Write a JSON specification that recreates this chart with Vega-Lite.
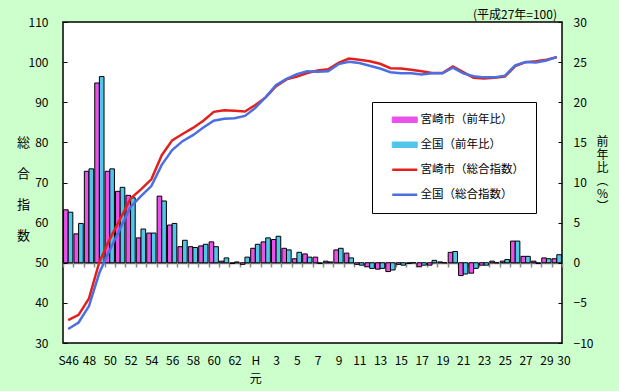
{
  "$schema": "https://vega.github.io/schema/vega-lite/v6.json",
  "width": 499,
  "height": 321,
  "autosize": {"type": "none"},
  "padding": {"left": 63, "top": 22, "right": 57, "bottom": 48},
  "background": "#CCFFCC",
  "config": {
    "view": {"fill": "white", "stroke": "black", "strokeWidth": 1.5},
    "font": "Noto Sans CJK JP",
    "axis": {"labelFont": "Noto Sans CJK JP", "labelFontSize": 12, "labelColor": "black", "titleFont": "Noto Sans CJK JP", "titleColor": "black", "titleFontWeight": "normal", "grid": false}
  },
  "title": {"text": "(平成27年=100)", "anchor": "end", "frame": "group", "fontSize": 12, "fontWeight": "normal", "font": "Noto Sans CJK JP", "color": "black", "offset": -6, "dx": -5},
  "datasets": {
    "bars": [
      {"yr":1971,"s":"a","v":6.6},{"yr":1972,"s":"a","v":3.6},{"yr":1973,"s":"a","v":11.4},{"yr":1974,"s":"a","v":22.4},{"yr":1975,"s":"a","v":11.4},{"yr":1976,"s":"a","v":8.9},{"yr":1977,"s":"a","v":8.4},{"yr":1978,"s":"a","v":3.1},{"yr":1979,"s":"a","v":3.7},{"yr":1980,"s":"a","v":8.3},
      {"yr":1981,"s":"a","v":4.7},{"yr":1982,"s":"a","v":2.0},{"yr":1983,"s":"a","v":2.0},{"yr":1984,"s":"a","v":2.1},{"yr":1985,"s":"a","v":2.6},{"yr":1986,"s":"a","v":0.2},{"yr":1987,"s":"a","v":-0.1},{"yr":1988,"s":"a","v":-0.2},{"yr":1989,"s":"a","v":1.8},{"yr":1990,"s":"a","v":2.6},
      {"yr":1991,"s":"a","v":2.9},{"yr":1992,"s":"a","v":1.8},{"yr":1993,"s":"a","v":0.5},{"yr":1994,"s":"a","v":1.1},{"yr":1995,"s":"a","v":0.7},{"yr":1996,"s":"a","v":0.2},{"yr":1997,"s":"a","v":1.6},{"yr":1998,"s":"a","v":1.2},{"yr":1999,"s":"a","v":-0.2},{"yr":2000,"s":"a","v":-0.5},
      {"yr":2001,"s":"a","v":-0.8},{"yr":2002,"s":"a","v":-1.1},{"yr":2003,"s":"a","v":-0.2},{"yr":2004,"s":"a","v":-0.1},{"yr":2005,"s":"a","v":-0.5},{"yr":2006,"s":"a","v":-0.3},{"yr":2007,"s":"a","v":0.1},{"yr":2008,"s":"a","v":1.3},{"yr":2009,"s":"a","v":-1.6},{"yr":2010,"s":"a","v":-1.3},
      {"yr":2011,"s":"a","v":-0.3},{"yr":2012,"s":"a","v":0.2},{"yr":2013,"s":"a","v":0.2},{"yr":2014,"s":"a","v":2.7},{"yr":2015,"s":"a","v":0.8},{"yr":2016,"s":"a","v":0.2},{"yr":2017,"s":"a","v":0.6},{"yr":2018,"s":"a","v":0.5},
      {"yr":1971,"s":"b","v":6.3},{"yr":1972,"s":"b","v":4.9},{"yr":1973,"s":"b","v":11.7},{"yr":1974,"s":"b","v":23.2},{"yr":1975,"s":"b","v":11.7},{"yr":1976,"s":"b","v":9.4},{"yr":1977,"s":"b","v":8.1},{"yr":1978,"s":"b","v":4.2},{"yr":1979,"s":"b","v":3.7},{"yr":1980,"s":"b","v":7.7},
      {"yr":1981,"s":"b","v":4.9},{"yr":1982,"s":"b","v":2.8},{"yr":1983,"s":"b","v":1.9},{"yr":1984,"s":"b","v":2.3},{"yr":1985,"s":"b","v":2.0},{"yr":1986,"s":"b","v":0.6},{"yr":1987,"s":"b","v":0.1},{"yr":1988,"s":"b","v":0.7},{"yr":1989,"s":"b","v":2.3},{"yr":1990,"s":"b","v":3.1},
      {"yr":1991,"s":"b","v":3.3},{"yr":1992,"s":"b","v":1.6},{"yr":1993,"s":"b","v":1.3},{"yr":1994,"s":"b","v":0.7},{"yr":1995,"s":"b","v":-0.1},{"yr":1996,"s":"b","v":0.1},{"yr":1997,"s":"b","v":1.8},{"yr":1998,"s":"b","v":0.6},{"yr":1999,"s":"b","v":-0.3},{"yr":2000,"s":"b","v":-0.7},
      {"yr":2001,"s":"b","v":-0.7},{"yr":2002,"s":"b","v":-0.9},{"yr":2003,"s":"b","v":-0.3},{"yr":2004,"s":"b","v":0.0},{"yr":2005,"s":"b","v":-0.3},{"yr":2006,"s":"b","v":0.3},{"yr":2007,"s":"b","v":0.0},{"yr":2008,"s":"b","v":1.4},{"yr":2009,"s":"b","v":-1.4},{"yr":2010,"s":"b","v":-0.7},
      {"yr":2011,"s":"b","v":-0.3},{"yr":2012,"s":"b","v":0.0},{"yr":2013,"s":"b","v":0.4},{"yr":2014,"s":"b","v":2.7},{"yr":2015,"s":"b","v":0.8},{"yr":2016,"s":"b","v":-0.1},{"yr":2017,"s":"b","v":0.5},{"yr":2018,"s":"b","v":1.0}
    ],
    "lines": [
      {"yr":1971,"s":"c","v":35.7},{"yr":1972,"s":"c","v":37.0},{"yr":1973,"s":"c","v":41.1},{"yr":1974,"s":"c","v":50.2},{"yr":1975,"s":"c","v":55.9},{"yr":1976,"s":"c","v":60.9},{"yr":1977,"s":"c","v":66.0},{"yr":1978,"s":"c","v":68.3},{"yr":1979,"s":"c","v":70.8},{"yr":1980,"s":"c","v":76.8},
      {"yr":1981,"s":"c","v":80.5},{"yr":1982,"s":"c","v":82.1},{"yr":1983,"s":"c","v":83.6},{"yr":1984,"s":"c","v":85.4},{"yr":1985,"s":"c","v":87.6},{"yr":1986,"s":"c","v":88.0},{"yr":1987,"s":"c","v":87.9},{"yr":1988,"s":"c","v":87.7},{"yr":1989,"s":"c","v":89.3},{"yr":1990,"s":"c","v":91.2},
      {"yr":1991,"s":"c","v":94.0},{"yr":1992,"s":"c","v":95.7},{"yr":1993,"s":"c","v":96.4},{"yr":1994,"s":"c","v":97.3},{"yr":1995,"s":"c","v":97.9},{"yr":1996,"s":"c","v":98.2},{"yr":1997,"s":"c","v":99.8},{"yr":1998,"s":"c","v":100.9},{"yr":1999,"s":"c","v":100.6},{"yr":2000,"s":"c","v":100.2},
      {"yr":2001,"s":"c","v":99.6},{"yr":2002,"s":"c","v":98.5},{"yr":2003,"s":"c","v":98.4},{"yr":2004,"s":"c","v":98.1},{"yr":2005,"s":"c","v":97.7},{"yr":2006,"s":"c","v":97.3},{"yr":2007,"s":"c","v":97.3},{"yr":2008,"s":"c","v":98.9},{"yr":2009,"s":"c","v":97.5},{"yr":2010,"s":"c","v":96.1},
      {"yr":2011,"s":"c","v":95.9},{"yr":2012,"s":"c","v":96.1},{"yr":2013,"s":"c","v":96.4},{"yr":2014,"s":"c","v":99.0},{"yr":2015,"s":"c","v":100.0},{"yr":2016,"s":"c","v":100.2},{"yr":2017,"s":"c","v":100.6},{"yr":2018,"s":"c","v":101.2},
      {"yr":1971,"s":"d","v":33.5},{"yr":1972,"s":"d","v":35.1},{"yr":1973,"s":"d","v":39.2},{"yr":1974,"s":"d","v":47.5},{"yr":1975,"s":"d","v":53.2},{"yr":1976,"s":"d","v":58.5},{"yr":1977,"s":"d","v":63.9},{"yr":1978,"s":"d","v":66.6},{"yr":1979,"s":"d","v":69.1},{"yr":1980,"s":"d","v":74.4},
      {"yr":1981,"s":"d","v":78.1},{"yr":1982,"s":"d","v":80.3},{"yr":1983,"s":"d","v":81.8},{"yr":1984,"s":"d","v":83.7},{"yr":1985,"s":"d","v":85.4},{"yr":1986,"s":"d","v":85.9},{"yr":1987,"s":"d","v":86.0},{"yr":1988,"s":"d","v":86.6},{"yr":1989,"s":"d","v":88.6},{"yr":1990,"s":"d","v":91.3},
      {"yr":1991,"s":"d","v":94.3},{"yr":1992,"s":"d","v":95.8},{"yr":1993,"s":"d","v":97.0},{"yr":1994,"s":"d","v":97.7},{"yr":1995,"s":"d","v":97.6},{"yr":1996,"s":"d","v":97.7},{"yr":1997,"s":"d","v":99.5},{"yr":1998,"s":"d","v":100.1},{"yr":1999,"s":"d","v":99.8},{"yr":2000,"s":"d","v":99.1},
      {"yr":2001,"s":"d","v":98.4},{"yr":2002,"s":"d","v":97.5},{"yr":2003,"s":"d","v":97.2},{"yr":2004,"s":"d","v":97.2},{"yr":2005,"s":"d","v":96.9},{"yr":2006,"s":"d","v":97.2},{"yr":2007,"s":"d","v":97.2},{"yr":2008,"s":"d","v":98.6},{"yr":2009,"s":"d","v":97.2},{"yr":2010,"s":"d","v":96.5},
      {"yr":2011,"s":"d","v":96.2},{"yr":2012,"s":"d","v":96.2},{"yr":2013,"s":"d","v":96.6},{"yr":2014,"s":"d","v":99.2},{"yr":2015,"s":"d","v":100.0},{"yr":2016,"s":"d","v":99.9},{"yr":2017,"s":"d","v":100.4},{"yr":2018,"s":"d","v":101.3}
    ]
  },
  "encoding": {
    "x": {
      "field": "yr", "type": "ordinal",
      "scale": {"paddingInner": 0, "paddingOuter": 0},
      "axis": {
        "title": null, "orient": "bottom", "offset": -80,
        "domainColor": "#888888", "domainWidth": 1.5,
        "tickColor": "#888888", "tickWidth": 1.5, "tickSize": 4, "tickBand": "extent",
        "labelPadding": 88, "labelAngle": 0, "labelOverlap": false, "labelLineHeight": 18, "labelFontSize": 12,
        "labelAlign": {"expr": "datum.value == 2018 ? 'left' : 'center'"},
        "labelExpr": "!isNumber(datum.value) ? '' : datum.value == 1971 ? 'S46' : datum.value == 1989 ? ['H','元'] : datum.value == 2018 ? '30' : datum.value % 2 == 0 ? '' : datum.value < 1989 ? '' + (datum.value - 1925) : '' + (datum.value - 1988)"
      }
    },
    "color": {
      "field": "s", "type": "nominal",
      "scale": {"domain": ["a", "b", "c", "d"], "range": ["#EA50EA", "#4FC6EA", "#E3211C", "#4B6FE0"]},
      "legend": {
        "orient": "none", "legendX": 309, "legendY": 80, "title": null,
        "strokeColor": "black", "fillColor": "white", "padding": 12, "rowPadding": 12,
        "labelFont": "Noto Sans CJK JP", "labelFontSize": 11.5, "labelColor": "black",
        "symbolSize": 100, "symbolOffset": 15, "labelOffset": 10,
        "labelExpr": "(datum.value == 'a' ? '宮崎市（前年比）' : datum.value == 'b' ? '全国（前年比）' : datum.value == 'c' ? '宮崎市（総合指数）' : '全国（総合指数）') + '　'",
        "encode": {
          "symbols": {
            "update": {
              "shape": {"signal": "datum.value == 'a' || datum.value == 'b' ? 'M-2.5,-0.55H2.5V0.55H-2.5Z' : 'M-2.5,0H2.5'"},
              "fill": {"signal": "datum.value == 'a' ? '#EA50EA' : datum.value == 'b' ? '#4FC6EA' : 'transparent'"},
              "stroke": {"signal": "datum.value == 'c' ? '#E3211C' : datum.value == 'd' ? '#4B6FE0' : 'black'"},
              "strokeWidth": {"signal": "datum.value == 'a' || datum.value == 'b' ? 1 : 2.5"},
              "opacity": {"value": 1}
            }
          }
        }
      }
    }
  },
  "layer": [
    {
      "data": {"name": "bars"},
      "mark": {"type": "bar", "stroke": "black", "strokeWidth": 1},
      "encoding": {
        "xOffset": {"field": "s", "type": "nominal", "scale": {"paddingOuter": 0.12, "paddingInner": 0}},
        "y": {
          "field": "v", "type": "quantitative",
          "scale": {"domain": [-10, 30], "nice": false},
          "axis": {
            "orient": "right", "values": [-10, -5, 0, 5, 10, 15, 20, 25, 30],
            "domain": false, "tickColor": "black", "tickSize": -4, "labelPadding": 15,
            "title": ["前", "年", "比", "︵", "%", "︶"], "titleAngle": 0, "titleX": 40, "titleY": 114,
            "titleBaseline": "top", "titleAlign": "center", "titleLineHeight": 13, "titleFontSize": 12
          }
        }
      }
    },
    {
      "data": {"name": "lines"},
      "mark": {"type": "line", "strokeWidth": 2.5},
      "encoding": {
        "y": {
          "field": "v", "type": "quantitative",
          "scale": {"domain": [30, 110], "nice": false, "zero": false},
          "axis": {
            "orient": "left", "values": [30, 40, 50, 60, 70, 80, 90, 100, 110],
            "domain": false, "tickColor": "black", "tickSize": -4, "labelPadding": 19,
            "title": ["総", "合", "指", "数"], "titleAngle": 0, "titleX": -40, "titleY": 114,
            "titleBaseline": "top", "titleAlign": "center", "titleLineHeight": 31, "titleFontSize": 13
          }
        }
      }
    }
  ],
  "resolve": {"scale": {"y": "independent"}}
}
